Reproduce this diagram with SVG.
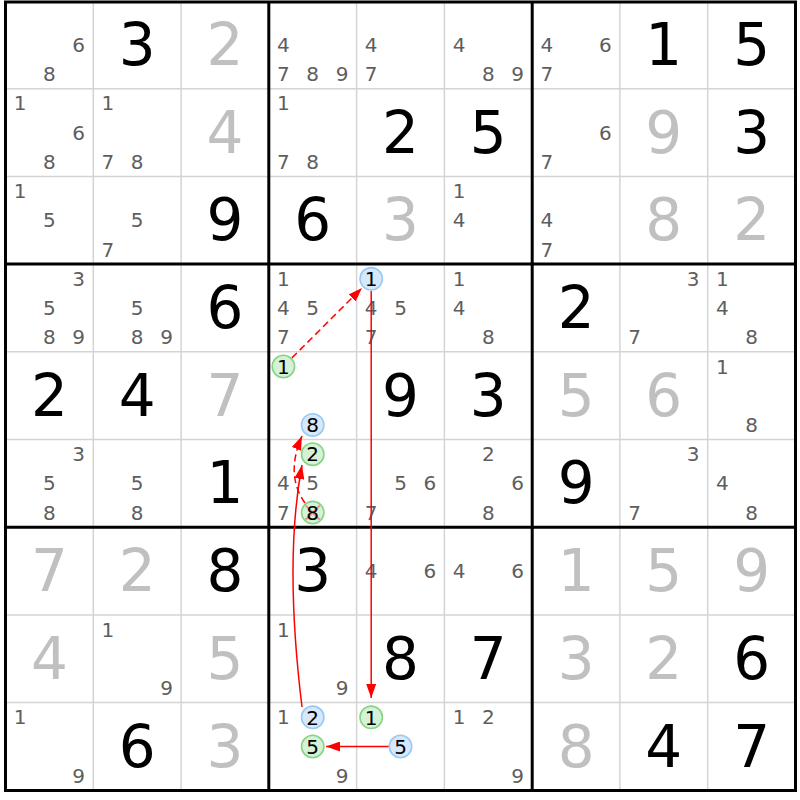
<svg xmlns="http://www.w3.org/2000/svg" width="800" height="800" viewBox="0 0 800 800">
<style>
text{font-family:"DejaVu Sans",Verdana,sans-serif;text-anchor:middle}
.g{font-size:58px;fill:#000}
.s{font-size:58px;fill:#c0c0c0}
.c{font-size:20px;fill:#5e5e5e}
.k{font-size:20px;fill:#000}
.thin{stroke:#d4d4d4;stroke-width:1.5;fill:none}
.thick{stroke:#000;stroke-width:3;fill:none}
.bl{fill:#d6e8fa;stroke:#99c9f5;stroke-width:1.6}
.gr{fill:#d6f2d6;stroke:#86d486;stroke-width:1.6}
.ar{stroke:#f00;stroke-width:1.5;fill:none;marker-end:url(#ah)}
.da{stroke-dasharray:7,4}
</style>
<defs>
<marker id="ah" markerUnits="userSpaceOnUse" markerWidth="14" markerHeight="10" refX="14" refY="5" orient="auto">
<path d="M0,0 L14,5 L0,10 z" fill="#f00"/>
</marker>
</defs>
<rect x="0" y="0" width="800" height="800" fill="#fff"/>
<g id="grid">
<path class="thin" d="M93.3 2V790.5M181.1 2V790.5M356.6 2V790.5M444.4 2V790.5M619.9 2V790.5M707.7 2V790.5M5.5 88.7H795.5M5.5 176.4H795.5M5.5 351.8H795.5M5.5 439.5H795.5M5.5 614.9H795.5M5.5 702.6H795.5"/>
<path class="thick" d="M268.8 2V790.5M532.2 2V790.5M5.5 264.1H795.5M5.5 527.2H795.5"/>
<rect class="thick" x="5.5" y="2" width="790" height="788.5"/>
</g>
<g id="row1">
<text class="c" x="78.7" y="51.9">6</text><text class="c" x="49.4" y="81.1">8</text>
<text class="g" x="137.2" y="64.9">3</text>
<text class="s" x="225" y="64.9">2</text>
<text class="c" x="283.4" y="51.9">4</text><text class="c" x="283.4" y="81.1">7</text><text class="c" x="312.7" y="81.1">8</text><text class="c" x="342" y="81.1">9</text>
<text class="c" x="371.2" y="51.9">4</text><text class="c" x="371.2" y="81.1">7</text>
<text class="c" x="459" y="51.9">4</text><text class="c" x="488.3" y="81.1">8</text><text class="c" x="517.6" y="81.1">9</text>
<text class="c" x="546.8" y="51.9">4</text><text class="c" x="605.4" y="51.9">6</text><text class="c" x="546.8" y="81.1">7</text>
<text class="g" x="663.8" y="64.9">1</text>
<text class="g" x="751.6" y="64.9">5</text>
</g>
<g id="row2">
<text class="c" x="20.1" y="110.4">1</text><text class="c" x="78.7" y="139.6">6</text><text class="c" x="49.4" y="168.8">8</text>
<text class="c" x="107.9" y="110.4">1</text><text class="c" x="107.9" y="168.8">7</text><text class="c" x="137.2" y="168.8">8</text>
<text class="s" x="225" y="152.6">4</text>
<text class="c" x="283.4" y="110.4">1</text><text class="c" x="283.4" y="168.8">7</text><text class="c" x="312.7" y="168.8">8</text>
<text class="g" x="400.5" y="152.6">2</text>
<text class="g" x="488.3" y="152.6">5</text>
<text class="c" x="605.4" y="139.6">6</text><text class="c" x="546.8" y="168.8">7</text>
<text class="s" x="663.8" y="152.6">9</text>
<text class="g" x="751.6" y="152.6">3</text>
</g>
<g id="row3">
<text class="c" x="20.1" y="198.1">1</text><text class="c" x="49.4" y="227.3">5</text>
<text class="c" x="137.2" y="227.3">5</text><text class="c" x="107.9" y="256.5">7</text>
<text class="g" x="225" y="240.3">9</text>
<text class="g" x="312.7" y="240.3">6</text>
<text class="s" x="400.5" y="240.3">3</text>
<text class="c" x="459" y="198.1">1</text><text class="c" x="459" y="227.3">4</text>
<text class="c" x="546.8" y="227.3">4</text><text class="c" x="546.8" y="256.5">7</text>
<text class="s" x="663.8" y="240.3">8</text>
<text class="s" x="751.6" y="240.3">2</text>
</g>
<g id="row4">
<text class="c" x="78.7" y="285.8">3</text><text class="c" x="49.4" y="315">5</text><text class="c" x="49.4" y="344.2">8</text><text class="c" x="78.7" y="344.2">9</text>
<text class="c" x="137.2" y="315">5</text><text class="c" x="137.2" y="344.2">8</text><text class="c" x="166.5" y="344.2">9</text>
<text class="g" x="225" y="328">6</text>
<text class="c" x="283.4" y="285.8">1</text><text class="c" x="283.4" y="315">4</text><text class="c" x="312.7" y="315">5</text><text class="c" x="283.4" y="344.2">7</text>
<text class="c" x="371.2" y="315">4</text><text class="c" x="400.5" y="315">5</text><text class="c" x="371.2" y="344.2">7</text>
<text class="c" x="459" y="285.8">1</text><text class="c" x="459" y="315">4</text><text class="c" x="488.3" y="344.2">8</text>
<text class="g" x="576.1" y="328">2</text>
<text class="c" x="693.1" y="285.8">3</text><text class="c" x="634.5" y="344.2">7</text>
<text class="c" x="722.3" y="285.8">1</text><text class="c" x="722.3" y="315">4</text><text class="c" x="751.6" y="344.2">8</text>
</g>
<g id="row5">
<text class="g" x="49.4" y="415.7">2</text>
<text class="g" x="137.2" y="415.7">4</text>
<text class="s" x="225" y="415.7">7</text>
<text class="g" x="400.5" y="415.7">9</text>
<text class="g" x="488.3" y="415.7">3</text>
<text class="s" x="576.1" y="415.7">5</text>
<text class="s" x="663.8" y="415.7">6</text>
<text class="c" x="722.3" y="373.5">1</text><text class="c" x="751.6" y="431.9">8</text>
</g>
<g id="row6">
<text class="c" x="78.7" y="461.2">3</text><text class="c" x="49.4" y="490.4">5</text><text class="c" x="49.4" y="519.6">8</text>
<text class="c" x="137.2" y="490.4">5</text><text class="c" x="137.2" y="519.6">8</text>
<text class="g" x="225" y="503.4">1</text>
<text class="c" x="283.4" y="490.4">4</text><text class="c" x="312.7" y="490.4">5</text><text class="c" x="283.4" y="519.6">7</text>
<text class="c" x="400.5" y="490.4">5</text><text class="c" x="429.8" y="490.4">6</text><text class="c" x="371.2" y="519.6">7</text>
<text class="c" x="488.3" y="461.2">2</text><text class="c" x="517.6" y="490.4">6</text><text class="c" x="488.3" y="519.6">8</text>
<text class="g" x="576.1" y="503.4">9</text>
<text class="c" x="693.1" y="461.2">3</text><text class="c" x="634.5" y="519.6">7</text>
<text class="c" x="722.3" y="490.4">4</text><text class="c" x="751.6" y="519.6">8</text>
</g>
<g id="row7">
<text class="s" x="49.4" y="591.1">7</text>
<text class="s" x="137.2" y="591.1">2</text>
<text class="g" x="225" y="591.1">8</text>
<text class="g" x="312.7" y="591.1">3</text>
<text class="c" x="371.2" y="578.1">4</text><text class="c" x="429.8" y="578.1">6</text>
<text class="c" x="459" y="578.1">4</text><text class="c" x="517.6" y="578.1">6</text>
<text class="s" x="576.1" y="591.1">1</text>
<text class="s" x="663.8" y="591.1">5</text>
<text class="s" x="751.6" y="591.1">9</text>
</g>
<g id="row8">
<text class="s" x="49.4" y="678.8">4</text>
<text class="c" x="107.9" y="636.6">1</text><text class="c" x="166.5" y="695">9</text>
<text class="s" x="225" y="678.8">5</text>
<text class="c" x="283.4" y="636.6">1</text><text class="c" x="342" y="695">9</text>
<text class="g" x="400.5" y="678.8">8</text>
<text class="g" x="488.3" y="678.8">7</text>
<text class="s" x="576.1" y="678.8">3</text>
<text class="s" x="663.8" y="678.8">2</text>
<text class="g" x="751.6" y="678.8">6</text>
</g>
<g id="row9">
<text class="c" x="20.1" y="724.3">1</text><text class="c" x="78.7" y="782.7">9</text>
<text class="g" x="137.2" y="766.5">6</text>
<text class="s" x="225" y="766.5">3</text>
<text class="c" x="283.4" y="724.3">1</text><text class="c" x="342" y="782.7">9</text>
<text class="c" x="459" y="724.3">1</text><text class="c" x="488.3" y="724.3">2</text><text class="c" x="517.6" y="782.7">9</text>
<text class="s" x="576.1" y="766.5">8</text>
<text class="g" x="663.8" y="766.5">4</text>
<text class="g" x="751.6" y="766.5">7</text>
</g>
<g id="connectors">
<path class="ar da" d="M291.9 357.9 L362 288"/>
<path class="ar" d="M371.2 291 L371.2 698"/>
<path class="ar" d="M302 707 Q284 560 302 465"/>
<path class="ar da" d="M305 503 Q285 475 302 436"/>
<path class="ar" d="M389 746.5 L326 746.5"/>
</g>
<g id="n-r4c5-1"><circle class="bl" cx="371.2" cy="278.8" r="11.2"/><text class="k" x="371.2" y="286">1</text></g>
<g id="n-r5c4-1"><circle class="gr" cx="283.4" cy="366.5" r="11.2"/><text class="k" x="283.4" y="373.7">1</text></g>
<g id="n-r5c4-8"><circle class="bl" cx="312.7" cy="424.9" r="11.2"/><text class="k" x="312.7" y="432.1">8</text></g>
<g id="n-r6c4-2"><circle class="gr" cx="312.7" cy="454.2" r="11.2"/><text class="k" x="312.7" y="461.4">2</text></g>
<g id="n-r6c4-8"><circle class="gr" cx="312.7" cy="512.6" r="11.2"/><path d="M305.5 505.4L319.9 519.8M319.9 505.4L305.5 519.8" stroke="#f09090" stroke-width="2"/><text class="k" x="312.7" y="519.8">8</text></g>
<g id="n-r9c4-2"><circle class="bl" cx="312.7" cy="717.3" r="11.2"/><text class="k" x="312.7" y="724.5">2</text></g>
<g id="n-r9c4-5"><circle class="gr" cx="312.7" cy="746.5" r="11.2"/><text class="k" x="312.7" y="753.7">5</text></g>
<g id="n-r9c5-1"><circle class="gr" cx="371.2" cy="717.3" r="11.2"/><text class="k" x="371.2" y="724.5">1</text></g>
<g id="n-r9c5-5"><circle class="bl" cx="400.5" cy="746.5" r="11.2"/><text class="k" x="400.5" y="753.7">5</text></g>
</svg>
